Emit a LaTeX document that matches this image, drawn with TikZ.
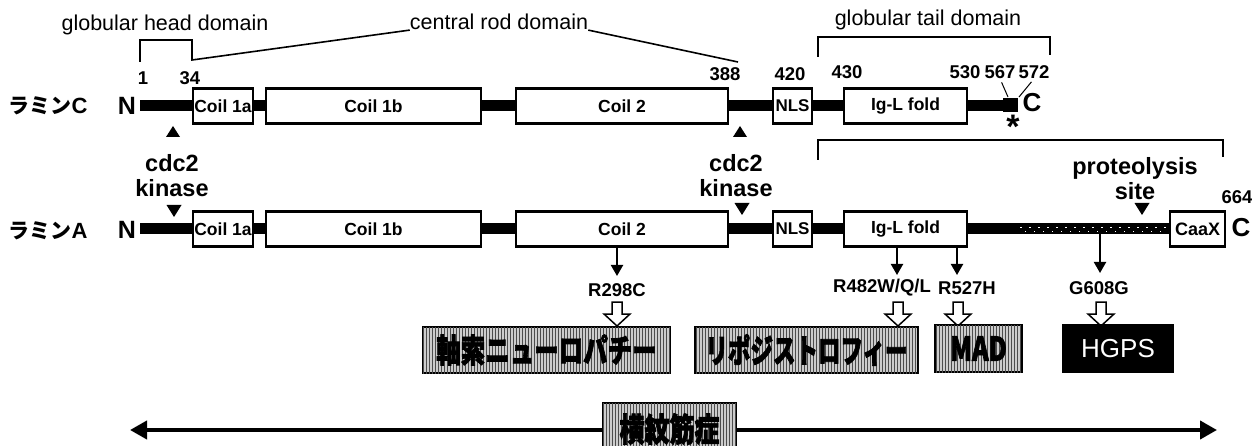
\documentclass[tikz,border=0pt]{standalone}
\usepackage{fontspec}
\setmainfont{Liberation Sans}
\newfontfamily\jp{Noto Sans CJK JP}
\newfontfamily\jpheavy{Noto Sans CJK JP}[BoldFeatures={FakeBold=2.5}, FakeBold=2.5]
\usetikzlibrary{arrows.meta,patterns}
\tikzset{
  dom/.style={draw, line width=2.8pt, fill=white, minimum height=35pt, inner sep=0pt,
    font=\bfseries\fontsize{17.5}{18}\selectfont},
  num/.style={font=\bfseries\fontsize{18.5}{20}\selectfont, inner sep=0pt},
  lbl/.style={font=\fontsize{21.5}{24}\selectfont, inner sep=0pt},
  big/.style={font=\bfseries\fontsize{23.5}{25}\selectfont, inner sep=0pt, align=center},
  bkt/.style={line width=1.6pt},
  tick/.style={line width=1pt},
  bar/.style={line width=11pt},
  mut/.style={font=\bfseries\fontsize{18.5}{20}\selectfont, inner sep=0pt},
  dis/.style={draw, line width=2pt, fill=black!20, postaction={pattern=vertical lines, pattern color=black!70},
    inner sep=0pt, font=\jpheavy\bfseries\fontsize{25}{26}\selectfont},
  thinarrow/.style={line width=2pt, -{Triangle[length=11pt,width=12pt]}},
  harrow/.pic={\draw[line width=1.5pt, fill=white] (-5,0) -- (-5,12) -- (-13,12) -- (0,24) -- (13,12) -- (5,12) -- (5,0) -- cycle;},
  tridown/.pic={\fill (-7.5,0) -- (7.5,0) -- (0,12) -- cycle;},
  triup/.pic={\fill (-7,0) -- (7,0) -- (0,-11) -- cycle;}
}
\begin{document}
\begin{tikzpicture}[x=1pt,y=-1pt]
\clip (0,0) rectangle (1252,446);
\fill[white] (0,0) rectangle (1252,446);

% ---------- top labels and brackets
\node[lbl] (ghd) at (165,25) {globular head domain};
\node[lbl] (crd) at (499,22) {central rod domain};
\node[lbl] (gtd) at (928,20) {globular tail domain};
\draw[bkt] (140,62) -- (140,40) -- (192,40) -- (192,60) -- (crd.south west);
\draw[bkt] (crd.south east) -- (738,62);
\draw[bkt] (818,57) -- (818,37) -- (1050,37) -- (1050,55);
\draw[bkt] (818,160) -- (818,140) -- (1223,140) -- (1223,157);

% ---------- numbers
\node[num] (n1) at (143,78) {1};
\node[num] (n34) at (190,78) {34};
\node[num] (n388) at (725,74) {388};
\node[num] (n420) at (790,74) {420};
\node[num] (n430) at (847,72) {430};
\node[num] (n530) at (965,72) {530};
\node[num] (n567) at (1000,72) {567};
\node[num] (n572) at (1034,72) {572};

% ---------- lamin C
\node[inner sep=0pt] (labC) at (48,106) {{\jp\bfseries\fontsize{21}{24}\selectfont ラミン}{\bfseries\fontsize{22}{24}\selectfont C}};
\node[inner sep=0pt, font=\bfseries\fontsize{25}{26}\selectfont] (NC) at (127,106) {N};
\coordinate (Cs) at (140,106);
\coordinate (Ce) at (1003,106);
\draw[bar] (Cs) -- (Ce);
\fill (1003,98) rectangle (1018,112);
\coordinate (e1) at (1008,97);
\coordinate (e2) at (1019,97);
\draw[tick, shorten <=4pt] (n567.south) -- (e1);
\draw[tick, shorten <=4pt] (n572.south) -- (e2);
\node[dom, minimum width=60pt] (c1aC) at (223,106) {Coil 1a};
\node[dom, minimum width=215pt] (c1bC) at (373.5,106) {Coil 1b};
\node[dom, minimum width=212pt] (c2C) at (622,106) {Coil 2};
\node[dom, minimum width=39pt, font=\bfseries\fontsize{17}{18}\selectfont] (nlsC) at (792.5,106) {NLS};
\node[dom, minimum width=123pt] (igC) at (905.5,106) {Ig-L fold};
\node[inner sep=0pt, font=\bfseries\fontsize{26}{26}\selectfont] (CC) at (1032,103) {C};
\node[inner sep=0pt, anchor=base, font=\bfseries\fontsize{34}{34}\selectfont] (ast) at (1013,139) {*};
\pic at (173,137) {triup};
\pic at (740,137) {triup};

% ---------- cdc2 kinase / proteolysis
\node[big] (k1) at (172,176) {cdc2\\kinase};
\node[big] (k2) at (736,176) {cdc2\\kinase};
\node[big] (prot) at (1135,179) {proteolysis\\site};
\node[num] (n664) at (1237,197) {664};
\pic at (174,205) {tridown};
\pic at (742,203) {tridown};
\pic at (1142,203) {tridown};

% ---------- lamin A
\node[inner sep=0pt] (labA) at (48,231) {{\jp\bfseries\fontsize{21}{24}\selectfont ラミン}{\bfseries\fontsize{22}{24}\selectfont A}};
\node[inner sep=0pt, font=\bfseries\fontsize{25}{26}\selectfont] (NA) at (127,230) {N};
\coordinate (As) at (140,229);
\coordinate (Am) at (1013,229);
\coordinate (Ae) at (1172,229);
\draw[bar] (As) -- (Am);
\fill[black] (1013,223.5) rectangle (1172,234.5);
\foreach \x in {1020,1029,...,1165} {
  \fill[white] (\x,226.8) rectangle ++(1.6,1);
  \fill[white] (\x+4.5,230.6) rectangle ++(1.6,1);
}
\node[dom, minimum width=60pt] (c1aA) at (223,229) {Coil 1a};
\node[dom, minimum width=215pt] (c1bA) at (373.5,229) {Coil 1b};
\node[dom, minimum width=212pt] (c2A) at (622,229) {Coil 2};
\node[dom, minimum width=39pt, font=\bfseries\fontsize{17}{18}\selectfont] (nlsA) at (792.5,229) {NLS};
\node[dom, minimum width=123pt] (igA) at (905.5,229) {Ig-L fold};
\node[dom, minimum width=55pt, font=\bfseries\fontsize{18}{18}\selectfont] (caax) at (1197.5,229) {CaaX};
\node[inner sep=0pt, font=\bfseries\fontsize{26}{26}\selectfont] (CA) at (1241,228) {C};

% ---------- mutations
\node[mut] (r298) at (617,290) {R298C};
\node[mut] (r482) at (882,288) {R482W/Q/L};
\node[mut] (r527) at (967,288) {R527H};
\node[mut] (g608) at (1099,288) {G608G};
\coordinate (t1) at (617,276);
\coordinate (t2) at (897,275);
\coordinate (t3) at (957,275);
\coordinate (t4) at (1100,273);
\coordinate (s4) at (1100,234);
\draw[thinarrow] (c2A.south -| t1) -- (t1);
\draw[thinarrow] (igA.south -| t2) -- (t2);
\draw[thinarrow] (igA.south -| t3) -- (t3);
\draw[thinarrow] (s4) -- (t4);
\pic at (617,302) {harrow};
\pic at (898,302) {harrow};
\pic at (958,302) {harrow};
\pic at (1101,302) {harrow};

% ---------- diseases
\node[dis, minimum width=247pt, minimum height=46pt] (axn) at (546.5,350) {\scalebox{0.98}[1.3]{軸索ニューロパチー}};
\node[dis, minimum width=223pt, minimum height=46pt] (lipo) at (806.5,350) {\scalebox{0.9}[1.3]{リポジストロフィー}};
\node[dis, minimum width=87pt, minimum height=47pt] (mad) at (978.5,348.5) {\scalebox{1}[1.3]{MAD}};
\node[draw, fill=black, line width=2pt, minimum width=110pt, minimum height=47pt, text=white,
  font=\fontsize{26}{28}\selectfont] (hgps) at (1118,348.5) {HGPS};

% ---------- bottom
\coordinate (L) at (130,430);
\coordinate (R) at (1217,430);
\draw[line width=4pt, {Triangle[length=17pt,width=18pt]}-{Triangle[length=17pt,width=18pt]}] (L) -- (R);
\node[dis, minimum width=133pt, minimum height=52pt] (rhab) at (669.5,429) {\scalebox{1}[1.3]{横紋筋症}};
\end{tikzpicture}
\end{document}
